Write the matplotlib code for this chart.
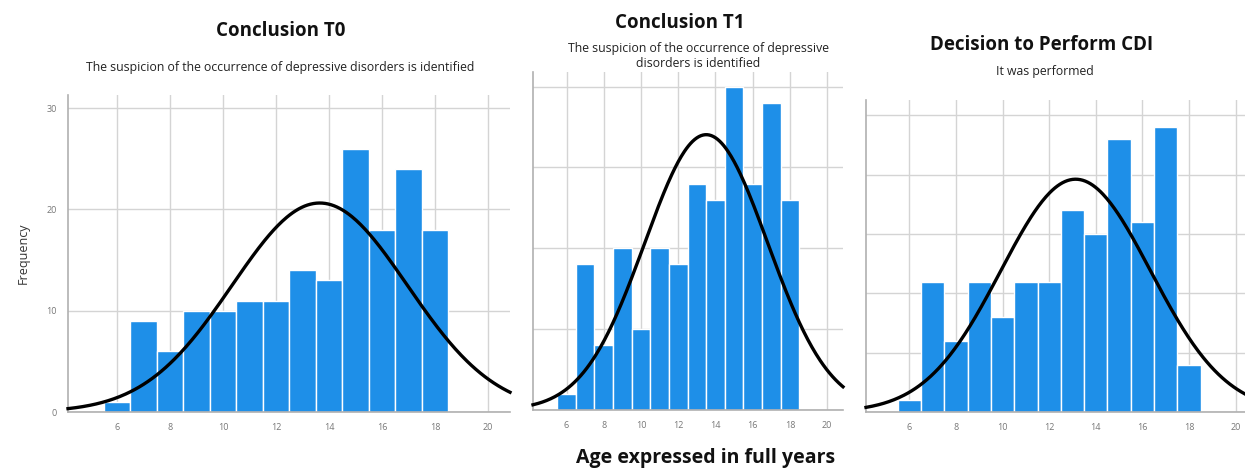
import numpy as np
import matplotlib.pyplot as plt

# ages (full years) and frequencies
ages = np.arange(6, 19)
freq_t0 = [1, 9, 6, 10, 10, 11, 11, 14, 13, 26, 18, 24, 18]
freq_t1 = [1, 9, 4, 10, 5, 10, 9, 14, 13, 20, 14, 19, 13]
freq_cdi = [1, 11, 6, 11, 8, 11, 11, 17, 15, 23, 16, 24, 4]

titles = ["Conclusion T0", "Conclusion T1", "Decision to Perform CDI"]
subtitles = ["The suspicion of the occurrence of depressive disorders is identified",
             "The suspicion of the occurrence of depressive\ndisorders is identified",
             "It was performed"]
xticks = [6, 8, 10, 12, 14, 16, 18, 20]

W, H = 1245, 468
BAR = "#1e8fe8"
GRID = "#d4d4d4"

plt.rcParams['font.family'] = ['Open Sans', 'DejaVu Sans']
fig = plt.figure(figsize=(W / 100, H / 100), dpi=100)


def px_axes(left, right, top, bottom):
    return fig.add_axes([left / W, 1 - bottom / H, (right - left) / W, (bottom - top) / H])


def draw_panel(ax, freq, xlim, ylim, yticks, show_ylabels):
    freq = np.array(freq)
    n = freq.sum()
    mean = (ages * freq).sum() / n
    sd = np.sqrt((freq * (ages - mean) ** 2).sum() / n)

    ax.bar(ages, freq, width=1.0, color=BAR, edgecolor="white", linewidth=1.0, zorder=2)
    xs = np.linspace(xlim[0], xlim[1], 300)
    curve = n / (sd * np.sqrt(2 * np.pi)) * np.exp(-0.5 * ((xs - mean) / sd) ** 2)
    ax.plot(xs, curve, color="black", lw=2.4, zorder=3, clip_on=False)

    ax.set_xlim(*xlim)
    ax.set_ylim(*ylim)
    ax.set_xticks(xticks)
    ax.set_yticks(yticks)
    ax.grid(True, color=GRID, lw=1.0, zorder=0)
    ax.set_axisbelow(True)
    for s in ["top", "right"]:
        ax.spines[s].set_visible(False)
    for s in ["left", "bottom"]:
        ax.spines[s].set_color("#b0b0b0")
        ax.spines[s].set_linewidth(1.2)
    ax.tick_params(length=0, labelsize=6.5, labelcolor="#777777", pad=8)
    if not show_ylabels:
        ax.set_yticklabels([])


ax1 = px_axes(68, 510, 95, 412)
draw_panel(ax1, freq_t0, (4.15, 20.83), (0, 31.3), [0, 10, 20, 30], True)
ax1.set_ylabel("Frequency", fontsize=9, color="#333333", labelpad=12)

ax2 = px_axes(533, 843, 72, 410)
draw_panel(ax2, freq_t1, (4.2, 20.85), (0, 20.9), [0, 5, 10, 15, 20], False)

ax3 = px_axes(866, 1245, 100, 412)
draw_panel(ax3, freq_cdi, (4.14, 20.4), (0, 26.3), [0, 5, 10, 15, 20, 25], False)

# titles and subtitles
title_pos = [(281, 31), (680, 23), (1042, 45)]
sub_pos = [(280, 68), (698, 56), (1045, 71)]
for t, s, (tx, ty), (sx, sy) in zip(titles, subtitles, title_pos, sub_pos):
    fig.text(tx / W, 1 - ty / H, t, ha="center", va="center", fontsize=13.5,
             fontweight="bold", color="#111111")
    fig.text(sx / W, 1 - sy / H, s, ha="center", va="center", fontsize=8.8,
             color="#222222", linespacing=1.25)

fig.text(706 / W, 1 - 458 / H, "Age expressed in full years", ha="center", va="center",
         fontsize=14, fontweight="bold", color="#111111")

fig.savefig("out.png", dpi=100)
